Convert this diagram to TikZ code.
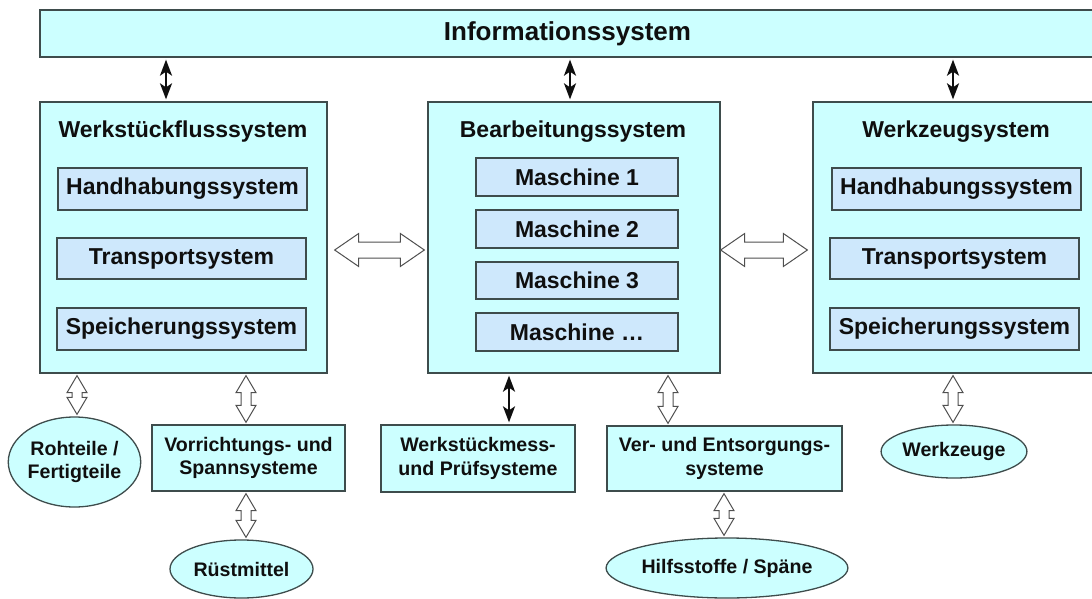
\documentclass[tikz,border=0pt]{standalone}
\usepackage{fontspec}
\setmainfont{Liberation Sans}
\usetikzlibrary{shapes.geometric,arrows.meta,calc}
\definecolor{ocol}{RGB}{204,255,255}
\definecolor{icol}{RGB}{206,232,252}
\definecolor{bcol}{RGB}{62,76,76}
\definecolor{tcol}{RGB}{15,15,15}
\definecolor{acol}{RGB}{80,80,80}
\newcommand\VA[3]{\draw[hollow] let \p1=($(#1 |- #2)+(0,2)$), \p2=($(#1 |- #3)+(0,-2)$) in
  (\x1,\y1) -- ({\x1+10pt},{\y1-17pt}) -- ({\x1+5pt},{\y1-17pt}) -- ({\x1+5pt},{\y2+17pt}) -- ({\x1+10pt},{\y2+17pt})
  -- (\x1,\y2) -- ({\x1-10pt},{\y2+17pt}) -- ({\x1-5pt},{\y2+17pt}) -- ({\x1-5pt},{\y1-17pt}) -- ({\x1-10pt},{\y1-17pt}) -- cycle;}
\newcommand\HA[2]{\draw[hollow] let \p1=#1, \p2=#2 in
  (\x1,\y1) -- ({\x1+24pt},{\y1+16.5pt}) -- ({\x1+24pt},{\y1+8pt}) -- ({\x2-24pt},{\y1+8pt}) -- ({\x2-24pt},{\y1+16.5pt})
  -- (\x2,\y1) -- ({\x2-24pt},{\y1-16.5pt}) -- ({\x2-24pt},{\y1-8pt}) -- ({\x1+24pt},{\y1-8pt}) -- ({\x1+24pt},{\y1-16.5pt}) -- cycle;}
\begin{document}
\begin{tikzpicture}[x=1pt,y=-1pt,
  outer/.style={draw=bcol, fill=ocol, line width=1.3pt, inner sep=0pt, text=tcol},
  innerbox/.style={draw=bcol, fill=icol, line width=1.3pt, inner sep=0pt, text=tcol, font=\fontsize{23}{27}\selectfont\bfseries},
  title/.style={inner sep=0pt, text=tcol, font=\fontsize{23}{27}\selectfont\bfseries},
  lowerbox/.style={draw=bcol, fill=ocol, line width=1.3pt, inner sep=0pt, text=tcol, align=center, font=\fontsize{19.6}{23.5}\selectfont\bfseries},
  ell/.style={ellipse, draw=bcol, fill=ocol, line width=1.3pt, inner sep=0pt, text=tcol, align=center, font=\fontsize{19.6}{23.5}\selectfont\bfseries},
  hollow/.style={draw=acol, fill=white, line width=1pt, line join=miter},
  blk/.style={draw=tcol, line width=2.2pt, {Stealth[length=16pt,width=12pt,inset=4pt]}-{Stealth[length=16pt,width=12pt,inset=4pt]}, shorten <=2pt, shorten >=2pt}]
\useasboundingbox (0,0) rectangle (1092,599);
\clip (0,0) rectangle (1092,599);
\fill[white] (0,0) rectangle (1092,599);

% top bar
\node[outer, minimum width=1055pt, minimum height=47pt, font=\fontsize{26}{30}\selectfont\bfseries] (info) at (567.5,33.5) {Informationssystem};

% outer boxes
\node[outer, minimum width=287pt, minimum height=271pt] (ws) at (183.5,237.5) {};
\node[title] (wstitle) at (183,132) {Werkstückflusssystem};
\node[outer, minimum width=292pt, minimum height=271pt] (bs) at (574,237.5) {};
\node[title] (bstitle) at (573,132) {Bearbeitungssystem};
\node[outer, minimum width=285pt, minimum height=271pt] (wz) at (955.5,237.5) {};
\node[title] (wztitle) at (956,132) {Werkzeugsystem};

% inner boxes left
\node[innerbox, minimum width=249pt, minimum height=42pt] (wsh) at (182.5,189) {Handhabungssystem};
\node[innerbox, minimum width=249pt, minimum height=41pt] (wst) at (181.5,258.5) {Transportsystem};
\node[innerbox, minimum width=249pt, minimum height=42pt] (wss) at (181.5,329) {Speicherungssystem};
% machines
\node[innerbox, minimum width=202pt, minimum height=38pt] (m1) at (577,177) {Maschine 1};
\node[innerbox, minimum width=202pt, minimum height=38pt] (m2) at (577,229) {Maschine 2};
\node[innerbox, minimum width=202pt, minimum height=37pt] (m3) at (577,280.5) {Maschine 3};
\node[innerbox, minimum width=202pt, minimum height=38pt] (m4) at (577,332) {Maschine \dots};
% inner boxes right
\node[innerbox, minimum width=249pt, minimum height=42pt] (wzh) at (956.5,189) {Handhabungssystem};
\node[innerbox, minimum width=249pt, minimum height=41pt] (wzt) at (954.5,258.5) {Transportsystem};
\node[innerbox, minimum width=249pt, minimum height=42pt] (wzs) at (954.5,329) {Speicherungssystem};

% lower elements
\node[ell, minimum width=125pt, minimum height=90pt] (rt) at (74.5,462) {Rohteile /\\Fertigteile};
\node[lowerbox, minimum width=193pt, minimum height=66pt] (vs) at (248.5,458) {Vorrichtungs- und\\Spannsysteme};
\node[ell, minimum width=143pt, minimum height=58pt] (rm) at (241.5,569) {Rüstmittel};
\node[lowerbox, minimum width=194pt, minimum height=67pt] (wm) at (478,458.5) {Werkstückmess-\\und Prüfsysteme};
\node[lowerbox, minimum width=235pt, minimum height=65pt] (ve) at (724.5,458.5) {Ver- und Entsorgungs-\\systeme};
\node[ell, minimum width=212pt, minimum height=60pt] (hs) at (727,568) {Hilfsstoffe / Späne};
\node[ell, minimum width=142pt, minimum height=53pt] (wk) at (954,451.5) {Werkzeuge};

% black arrows
\coordinate (k1) at (166,0);
\coordinate (k2) at (570,0);
\coordinate (k3) at (953,0);
\coordinate (k4) at (509,0);
\draw[blk] (k1 |- info.south) -- (k1 |- ws.north);
\draw[blk] (k2 |- info.south) -- (k2 |- bs.north);
\draw[blk] (k3 |- info.south) -- (k3 |- wz.north);
\draw[blk] (k4 |- bs.south) -- (k4 |- wm.north);

% hollow arrows
\coordinate (h1) at (77,0);
\coordinate (h2) at (246,0);
\coordinate (h3) at (668,0);
\coordinate (h4) at (724,0);
\coordinate (h5) at (953,0);
\VA{h1}{ws.south}{rt.north}
\VA{h2}{ws.south}{vs.north}
\VA{h2}{vs.south}{rm.north}
\VA{h3}{bs.south}{ve.north}
\VA{h4}{ve.south}{hs.north}
\VA{h5}{wz.south}{wk.north}

\coordinate (hy) at (0,250);
\HA{($(ws.east |- hy)+(7,0)$)}{($(bs.west |- hy)+(-3,0)$)}
\HA{($(bs.east |- hy)+(0,0)$)}{($(wz.west |- hy)+(-5,0)$)}
\end{tikzpicture}
\end{document}
